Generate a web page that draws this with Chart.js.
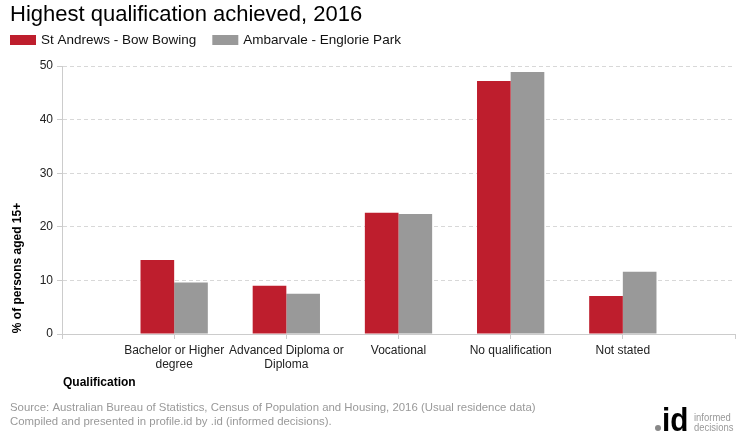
<!DOCTYPE html>
<html>
<head>
<meta charset="utf-8">
<script src="https://cdn.jsdelivr.net/npm/chart.js@4"></script>
<style>
  html, body { margin: 0; padding: 0; background: #fff; }
  #wrap { width: 740px; height: 440px; }
</style>
</head>
<body>
<div id="wrap"><canvas id="chart" width="740" height="440"></canvas></div>
<script>
// Chart data
const categories = [
    ['Bachelor or Higher', 'degree'],
    ['Advanced Diploma or', 'Diploma'],
    'Vocational',
    'No qualification',
    'Not stated'
];
const seriesNames = ['St Andrews - Bow Bowing', 'Ambarvale - Englorie Park'];
const stAndrews = [13.8, 9.0, 22.6, 47.2, 7.1];
const ambarvale = [9.6, 7.5, 22.4, 48.9, 11.6];
const yTicks = [0, 10, 20, 30, 40, 50];

// empty slot at each end, the way the original axis is laid out
const labels = [''].concat(categories, ['']);
const pad = arr => [null].concat(arr, [null]);

const FONT = '"Liberation Sans", Arial, sans-serif';

// Legend, axis titles, source and logo
const extras = {
    id: 'extras',
    afterDraw(chart) {
        const ctx = chart.ctx;
        ctx.save();

        // legend row
        ctx.font = '13.5px ' + FONT;
        ctx.textBaseline = 'middle';
        ctx.textAlign = 'left';
        let x = 10;
        chart.data.datasets.forEach(ds => {
            ctx.fillStyle = ds.backgroundColor;
            ctx.fillRect(x, 35, 26, 10);
            ctx.fillStyle = '#111';
            ctx.fillText(ds.label, x + 31, 40.5);
            x += 31 + ctx.measureText(ds.label).width + 16;
        });

        // y axis title
        ctx.translate(18, 268);
        ctx.rotate(-Math.PI / 2);
        ctx.font = 'bold 12px ' + FONT;
        ctx.fillStyle = '#000';
        ctx.textAlign = 'center';
        ctx.fillText('% of persons aged 15+', 0, 0);
        ctx.setTransform(1, 0, 0, 1, 0, 0);

        // x axis title
        ctx.textAlign = 'left';
        ctx.fillText('Qualification', 63, 383);

        // source
        ctx.font = '11.4px ' + FONT;
        ctx.fillStyle = '#999';
        ctx.fillText('Source: Australian Bureau of Statistics, Census of Population and Housing, 2016 (Usual residence data)', 10, 408);
        ctx.fillText('Compiled and presented in profile.id by .id (informed decisions).', 10, 422);

        // logo
        ctx.textBaseline = 'alphabetic';
        ctx.save();
        ctx.translate(662, 431);
        ctx.scale(0.85, 0.95);
        ctx.font = 'bold 35px ' + FONT;
        ctx.fillStyle = '#000';
        ctx.fillText('id', 0, 0);
        ctx.restore();
        ctx.fillStyle = '#888';
        ctx.beginPath();
        ctx.arc(658, 428, 3, 0, Math.PI * 2);
        ctx.fill();
        ctx.save();
        ctx.translate(694, 0);
        ctx.scale(0.9, 1);
        ctx.font = '10.5px ' + FONT;
        ctx.fillStyle = '#999';
        ctx.fillText('informed', 0, 421);
        ctx.fillText('decisions', 0, 431);
        ctx.restore();
        ctx.restore();
    }
};

new Chart(document.getElementById('chart'), {
    type: 'bar',
    data: {
        labels: labels,
        datasets: [{
            label: seriesNames[0],
            data: pad(stAndrews),
            backgroundColor: '#BE1E2D'
        }, {
            label: seriesNames[1],
            data: pad(ambarvale),
            backgroundColor: '#999999'
        }]
    },
    options: {
        responsive: false,
        animation: false,
        layout: { padding: { left: 10, right: 5, top: 0, bottom: 0 } },
        datasets: {
            bar: { categoryPercentage: 0.6, barPercentage: 1.0 }
        },
        plugins: {
            title: {
                display: true,
                text: 'Highest qualification achieved, 2016',
                align: 'start',
                color: '#000',
                font: { family: FONT, size: 22, weight: 'normal' },
                padding: { top: 2, bottom: 37.6 }
            },
            legend: { display: false },
            tooltip: { enabled: false }
        },
        scales: {
            x: {
                offset: false,
                grid: {
                    offset: false,
                    drawOnChartArea: false,
                    color: '#ccc',
                    tickLength: 5
                },
                border: { color: '#ccc' },
                ticks: {
                    color: '#222',
                    font: { family: FONT, size: 12 },
                    maxRotation: 0,
                    autoSkip: false,
                    padding: 4
                },
                afterFit(scale) { scale.height = 106; }
            },
            y: {
                min: 0,
                max: 50,
                afterBuildTicks(scale) {
                    scale.ticks = yTicks.map(v => ({ value: v }));
                },
                grid: {
                    color: '#d8d8d8',
                    tickLength: 5,
                    tickColor: '#ccc'
                },
                border: { color: '#ccc', dash: [4, 3] },
                ticks: {
                    color: '#222',
                    font: { family: FONT, size: 12 },
                    padding: 4
                },
                afterFit(scale) { scale.width = 52; }
            }
        }
    },
    plugins: [extras]
});
</script>
</body>
</html>
